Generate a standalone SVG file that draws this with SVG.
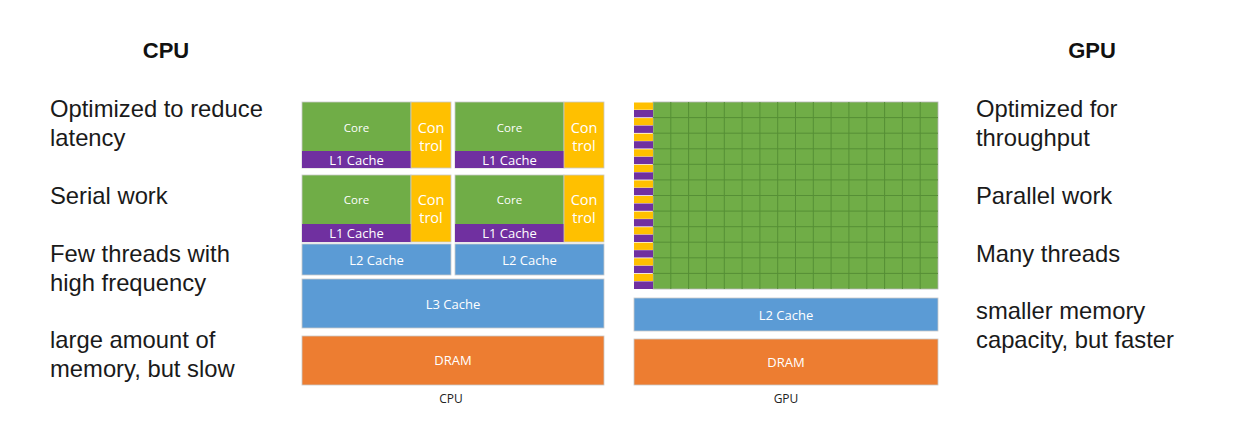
<svg xmlns="http://www.w3.org/2000/svg" width="1248" height="440" viewBox="0 0 1248 440">
<style>
.bg{fill:#ffffff}
.h{font-family:"Liberation Sans",Arial,sans-serif;font-weight:bold;font-size:22px;fill:#111;text-anchor:middle}
.t{font-family:"Liberation Sans",Arial,sans-serif;font-size:23.8px;fill:#1a1a1a}
.core{fill:#70AD47;stroke:#c9c9c9;stroke-width:0.8}
.l1{fill:#7030A0}
.ctl{fill:#FFC000;stroke:#c9c9c9;stroke-width:0.8}
.blue{fill:#5B9BD5;stroke:#c9c9c9;stroke-width:0.8}
.dram{fill:#ED7D31;stroke:#c9c9c9;stroke-width:0.8}
.w{font-family:"Open Sans","Liberation Sans",sans-serif;fill:#ffffff;text-anchor:middle;dominant-baseline:central}
.s11{font-size:11.5px}
.s12{font-size:13px}
.s13{font-size:14.5px}
.lab{font-family:"Open Sans","Liberation Sans",sans-serif;font-size:12px;fill:#222;text-anchor:middle;dominant-baseline:central}
.grid{fill:none;stroke:#568f36;stroke-width:1}
.y{fill:#FFC000}
.p{fill:#7030A0}
</style>
<rect class="bg" x="0" y="0" width="1248" height="440"/>

<g id="cpu-text">
<text class="h" x="166" y="58">CPU</text>
<text class="t" x="50" y="117">Optimized to reduce</text>
<text class="t" x="50" y="146">latency</text>
<text class="t" x="50" y="204">Serial work</text>
<text class="t" x="50" y="262">Few threads with</text>
<text class="t" x="50" y="291">high frequency</text>
<text class="t" x="50" y="348">large amount of</text>
<text class="t" x="50" y="377">memory, but slow</text>
</g>

<g id="gpu-text">
<text class="h" x="1092" y="58">GPU</text>
<text class="t" x="976" y="117">Optimized for</text>
<text class="t" x="976" y="146">throughput</text>
<text class="t" x="976" y="204">Parallel work</text>
<text class="t" x="976" y="262">Many threads</text>
<text class="t" x="976" y="319">smaller memory</text>
<text class="t" x="976" y="348">capacity, but faster</text>
</g>

<g id="cpu-core-1">
<rect class="core" x="302" y="102" width="109" height="66"/>
<rect class="l1" x="302" y="151" width="109" height="17"/>
<rect class="ctl" x="411" y="102" width="40" height="66"/>
<text class="w s11" x="356.5" y="127">Core</text>
<text class="w s12" x="356.5" y="160">L1 Cache</text>
<text class="w s13" x="431" y="127">Con</text>
<text class="w s13" x="431" y="145">trol</text>
</g>
<g id="cpu-core-2">
<rect class="core" x="455" y="102" width="109" height="66"/>
<rect class="l1" x="455" y="151" width="109" height="17"/>
<rect class="ctl" x="564" y="102" width="40" height="66"/>
<text class="w s11" x="509.5" y="127">Core</text>
<text class="w s12" x="509.5" y="160">L1 Cache</text>
<text class="w s13" x="584" y="127">Con</text>
<text class="w s13" x="584" y="145">trol</text>
</g>
<g id="cpu-core-3">
<rect class="core" x="302" y="175" width="109" height="67"/>
<rect class="l1" x="302" y="224" width="109" height="18"/>
<rect class="ctl" x="411" y="175" width="40" height="67"/>
<text class="w s11" x="356.5" y="199.5">Core</text>
<text class="w s12" x="356.5" y="233">L1 Cache</text>
<text class="w s13" x="431" y="199.5">Con</text>
<text class="w s13" x="431" y="217.5">trol</text>
</g>
<g id="cpu-core-4">
<rect class="core" x="455" y="175" width="109" height="67"/>
<rect class="l1" x="455" y="224" width="109" height="18"/>
<rect class="ctl" x="564" y="175" width="40" height="67"/>
<text class="w s11" x="509.5" y="199.5">Core</text>
<text class="w s12" x="509.5" y="233">L1 Cache</text>
<text class="w s13" x="584" y="199.5">Con</text>
<text class="w s13" x="584" y="217.5">trol</text>
</g>
<g id="cpu-l2-1">
<rect class="blue" x="302" y="244" width="149" height="31"/>
<text class="w s12" x="376.5" y="260">L2 Cache</text>
</g>
<g id="cpu-l2-2">
<rect class="blue" x="455" y="244" width="149" height="31"/>
<text class="w s12" x="529.5" y="260">L2 Cache</text>
</g>
<g id="cpu-l3">
<rect class="blue" x="302" y="279" width="302" height="49"/>
<text class="w s12" x="453" y="304">L3 Cache</text>
</g>
<g id="cpu-dram">
<rect class="dram" x="302" y="336" width="302" height="49"/>
<text class="w s12" x="453" y="360">DRAM</text>
</g>
<text class="lab" x="451" y="398">CPU</text>

<g id="gpu-cores">
<rect x="653" y="102" width="285" height="187" fill="#70AD47" stroke="#b5b5b5" stroke-width="0.8"/>
<path class="grid" d="M670.8 102V289M688.6 102V289M706.4 102V289M724.3 102V289M742.1 102V289M759.9 102V289M777.7 102V289M795.5 102V289M813.3 102V289M831.1 102V289M848.9 102V289M866.8 102V289M884.6 102V289M902.4 102V289M920.2 102V289M653 117.6H938M653 133.2H938M653 148.8H938M653 164.3H938M653 179.9H938M653 195.5H938M653 211.1H938M653 226.7H938M653 242.2H938M653 257.8H938M653 273.4H938"/>
<g id="gpu-strip">
<rect class="y" x="634" y="102.5" width="19" height="7.2"/><rect class="p" x="634" y="110" width="19" height="7.3"/>
<rect class="y" x="634" y="118.1" width="19" height="7.2"/><rect class="p" x="634" y="125.6" width="19" height="7.3"/>
<rect class="y" x="634" y="133.7" width="19" height="7.2"/><rect class="p" x="634" y="141.2" width="19" height="7.3"/>
<rect class="y" x="634" y="149.3" width="19" height="7.2"/><rect class="p" x="634" y="156.8" width="19" height="7.3"/>
<rect class="y" x="634" y="164.8" width="19" height="7.2"/><rect class="p" x="634" y="172.3" width="19" height="7.3"/>
<rect class="y" x="634" y="180.4" width="19" height="7.2"/><rect class="p" x="634" y="187.9" width="19" height="7.3"/>
<rect class="y" x="634" y="196" width="19" height="7.2"/><rect class="p" x="634" y="203.5" width="19" height="7.3"/>
<rect class="y" x="634" y="211.6" width="19" height="7.2"/><rect class="p" x="634" y="219.1" width="19" height="7.3"/>
<rect class="y" x="634" y="227.2" width="19" height="7.2"/><rect class="p" x="634" y="234.7" width="19" height="7.3"/>
<rect class="y" x="634" y="242.7" width="19" height="7.2"/><rect class="p" x="634" y="250.2" width="19" height="7.3"/>
<rect class="y" x="634" y="258.3" width="19" height="7.2"/><rect class="p" x="634" y="265.8" width="19" height="7.3"/>
<rect class="y" x="634" y="273.9" width="19" height="7.2"/><rect class="p" x="634" y="281.4" width="19" height="7.6"/>
</g>
</g>
<g id="gpu-l2">
<rect class="blue" x="634" y="298" width="304" height="33"/>
<text class="w s12" x="786" y="314.5">L2 Cache</text>
</g>
<g id="gpu-dram">
<rect class="dram" x="634" y="339" width="304" height="46"/>
<text class="w s12" x="786" y="362">DRAM</text>
</g>
<text class="lab" x="786" y="398">GPU</text>
<g id="connectors"></g>
</svg>
